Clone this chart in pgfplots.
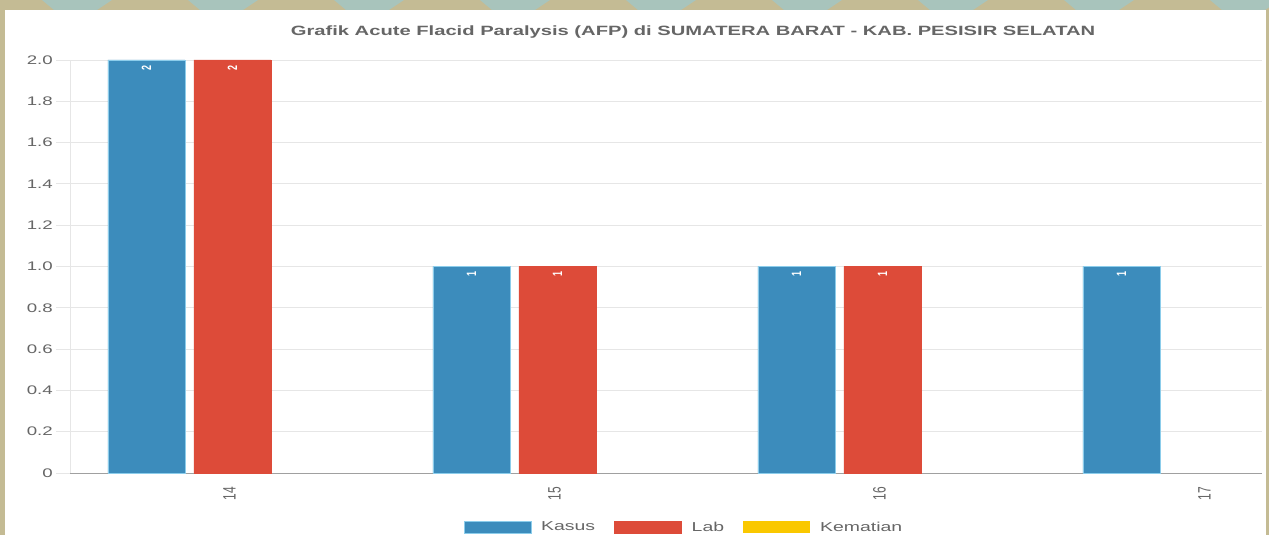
\documentclass[border=0pt]{standalone}
\usepackage{pgfplots}
\pgfplotsset{compat=1.18}
\usepackage{fontspec}
\setmainfont{Liberation Sans}
\newfontfamily\wide[FakeStretch=1.5]{Liberation Sans}
\definecolor{beige}{RGB}{196,187,148}
\definecolor{tealdeco}{RGB}{168,196,188}
\definecolor{kasus}{RGB}{60,140,188}
\definecolor{kasusedge}{RGB}{140,205,235}
\definecolor{lab}{RGB}{221,75,57}
\definecolor{kematian}{RGB}{250,200,0}
\definecolor{txt}{RGB}{102,102,102}
\definecolor{gridc}{RGB}{230,230,230}
\definecolor{axisc}{RGB}{160,160,160}
\begin{document}
\begin{tikzpicture}[x=1bp,y=1bp]
\path[use as bounding box] (0,0) rectangle (1269,535);
\clip (0,0) rectangle (1269,535);
\fill[beige] (0,0) rectangle (1269,535);
\foreach \s in {42,188,334,480,626,772,918,1064,1210} {
  \fill[tealdeco] (\s,535) -- (\s+70,535) -- (\s+55,525) -- (\s+12,525) -- cycle;
}
\fill[white] (5,0) rectangle (1266,525);
\begin{axis}[
  at={(70bp,62bp)}, anchor=south west,
  scale only axis, width=1192bp, height=413bp,
  xmin=-0.5, xmax=3.168, ymin=0, ymax=2,
  axis x line*=bottom, axis y line*=left,
  x axis line style={draw=axisc, -},
  y axis line style={draw=gridc, -},
  xtick={0,1,2,3}, xticklabels={14,15,16,17},
  ytick={0,0.2,0.4,0.6,0.8,1,1.2,1.4,1.6,1.8,2},
  yticklabels={0,0.2,0.4,0.6,0.8,1.0,1.2,1.4,1.6,1.8,2.0},
  ymajorgrids, grid style={draw=gridc, line width=0.8bp},
  xtick style={draw=none},
  ytick style={draw=gridc, line width=0.8bp},
  tick align=outside, major tick length=14bp,
  /pgf/number format/assume math mode=true,
  xticklabel style={font=\fontsize{12}{14}\selectfont, text=txt, xshift=-3bp, rotate=90, yscale=1.5, anchor=east, inner sep=0pt},
  yticklabel style={font=\wide\fontsize{12.5}{14}\selectfont, text=txt, anchor=east, inner sep=0pt, xshift=-3bp},
  title={Grafik Acute Flacid Paralysis (AFP) di SUMATERA BARAT - KAB. PESISIR SELATAN},
  title style={at={(0.5227,1.0532)}, anchor=center, font=\wide\bfseries\fontsize{13.5}{15}\selectfont, text=txt, inner sep=0pt},
  legend columns=3,
  legend style={at={(0.515,-0.131)}, anchor=center, draw=none, fill=none,
    font=\wide\fontsize{13}{15}\selectfont, text=txt, inner sep=0pt,
    /tikz/every odd column/.append style={column sep=8bp},
    /tikz/every even column/.append style={column sep=17bp}},
  legend image code/.code={\fill[#1] (0bp,-6bp) rectangle (67bp,6bp);},
  clip=false,
]
\addplot[ybar, bar width=77bp, bar shift=-86bp, fill=kasus, draw=kasusedge, line width=0.6bp,
  nodes near coords, nodes near coords style={xshift=-86bp, rotate=90, yscale=1.5, anchor=east, text=white, font=\bfseries\fontsize{9}{10}\selectfont, inner sep=5bp}]
  coordinates {(0,2) (1,1) (2,1) (3,1)};
\addlegendentry{Kasus}
\addplot[ybar, bar width=77bp, bar shift=0bp, fill=lab, draw=lab, line width=0.6bp,
  nodes near coords, nodes near coords style={rotate=90, yscale=1.5, anchor=east, text=white, font=\bfseries\fontsize{9}{10}\selectfont, inner sep=5bp}]
  coordinates {(0,2) (1,1) (2,1)};
\addlegendentry{Lab}
\addlegendimage{fill=kematian, draw=none}
\addlegendentry{Kematian}
\end{axis}
\end{tikzpicture}
\end{document}
